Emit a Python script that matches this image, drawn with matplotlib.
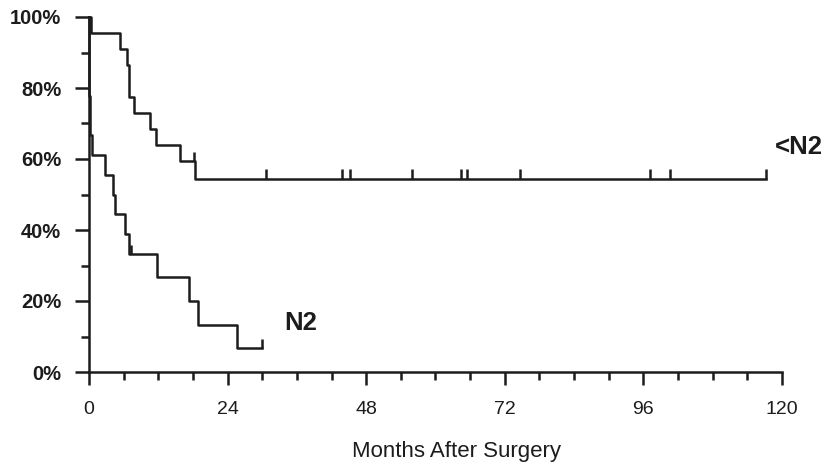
import matplotlib
matplotlib.use('Agg')
import matplotlib.pyplot as plt
from matplotlib.ticker import MultipleLocator, PercentFormatter
import numpy as np

plt.rcParams['font.family'] = ['Liberation Sans', 'DejaVu Sans']

# survival curve for <N2 group (months, % surviving after each step)
lt_n2_times = [0, 0.3, 5.4, 6.5, 6.9, 7.8, 10.6, 11.6, 15.8, 18.4, 117.2]
lt_n2_surv = [100, 95.5, 91.0, 86.5, 77.5, 73.0, 68.5, 64.0, 59.5, 54.5, 54.5]
lt_n2_censor = [18.2, 30.7, 43.8, 45.2, 56.0, 64.4, 65.4, 74.6, 97.1, 100.6, 117.2]

# survival curve for N2 group
n2_times = [0, 0, 0.25, 0.55, 2.8, 4.2, 4.5, 6.3, 6.9, 11.8, 17.3, 18.8, 25.6, 30.0]
n2_surv = [100, 77.8, 66.7, 61.1, 55.6, 50.0, 44.4, 38.9, 33.3, 26.7, 20.0, 13.3, 6.7, 6.7]
n2_censor = [7.3, 30.0]

group_labels = ['<N2', 'N2']
label_pos = [(118.8, 63.4), (33.8, 13.8)]

ink = '#1c1c1c'

fig = plt.figure(figsize=(8.29, 4.74), dpi=100)
ax = fig.add_axes([89/829, 1 - 372/474, (782 - 89)/829, (372 - 17)/474])


def surv_at(times, surv, t):
    idx = np.searchsorted(times, t, side='right') - 1
    return surv[max(idx, 0)]


for times, surv, cens in [(lt_n2_times, lt_n2_surv, lt_n2_censor),
                          (n2_times, n2_surv, n2_censor)]:
    ax.step(times, surv, where='post', color=ink, lw=1.8, clip_on=False)
    lev = [surv_at(times, surv, c) for c in cens]
    ax.vlines(cens, lev, [v + 2.6 for v in lev], color=ink, lw=1.8, clip_on=False)

for txt, (x, y) in zip(group_labels, label_pos):
    ax.text(x, y, txt, fontsize=18.5, fontweight='bold', color=ink,
            ha='left', va='center')

ax.set_xlim(0, 120)
ax.set_ylim(0, 100)
ax.xaxis.set_major_locator(MultipleLocator(24))
ax.xaxis.set_minor_locator(MultipleLocator(6))
ax.yaxis.set_major_locator(MultipleLocator(20))
ax.yaxis.set_minor_locator(MultipleLocator(10))
ax.yaxis.set_major_formatter(PercentFormatter(xmax=100, decimals=0))

for s in ['top', 'right']:
    ax.spines[s].set_visible(False)
for s in ['left', 'bottom']:
    ax.spines[s].set_linewidth(1.8)
    ax.spines[s].set_color(ink)

ax.tick_params(axis='x', which='major', length=9, width=1.8, pad=12,
               labelsize=14, colors=ink)
ax.tick_params(axis='x', which='minor', length=5.5, width=1.8, colors=ink)
ax.tick_params(axis='y', which='major', length=10, width=1.8, pad=10,
               labelsize=14.5, colors=ink)
ax.tick_params(axis='y', which='minor', length=6, width=1.8, colors=ink)
for lab in ax.get_yticklabels():
    lab.set_fontweight('bold')

fig.text(457/829, 1 - 452/474, 'Months After Surgery', fontsize=16,
         color=ink, ha='center', va='center')

fig.savefig('out.png', dpi=100, facecolor='white')
